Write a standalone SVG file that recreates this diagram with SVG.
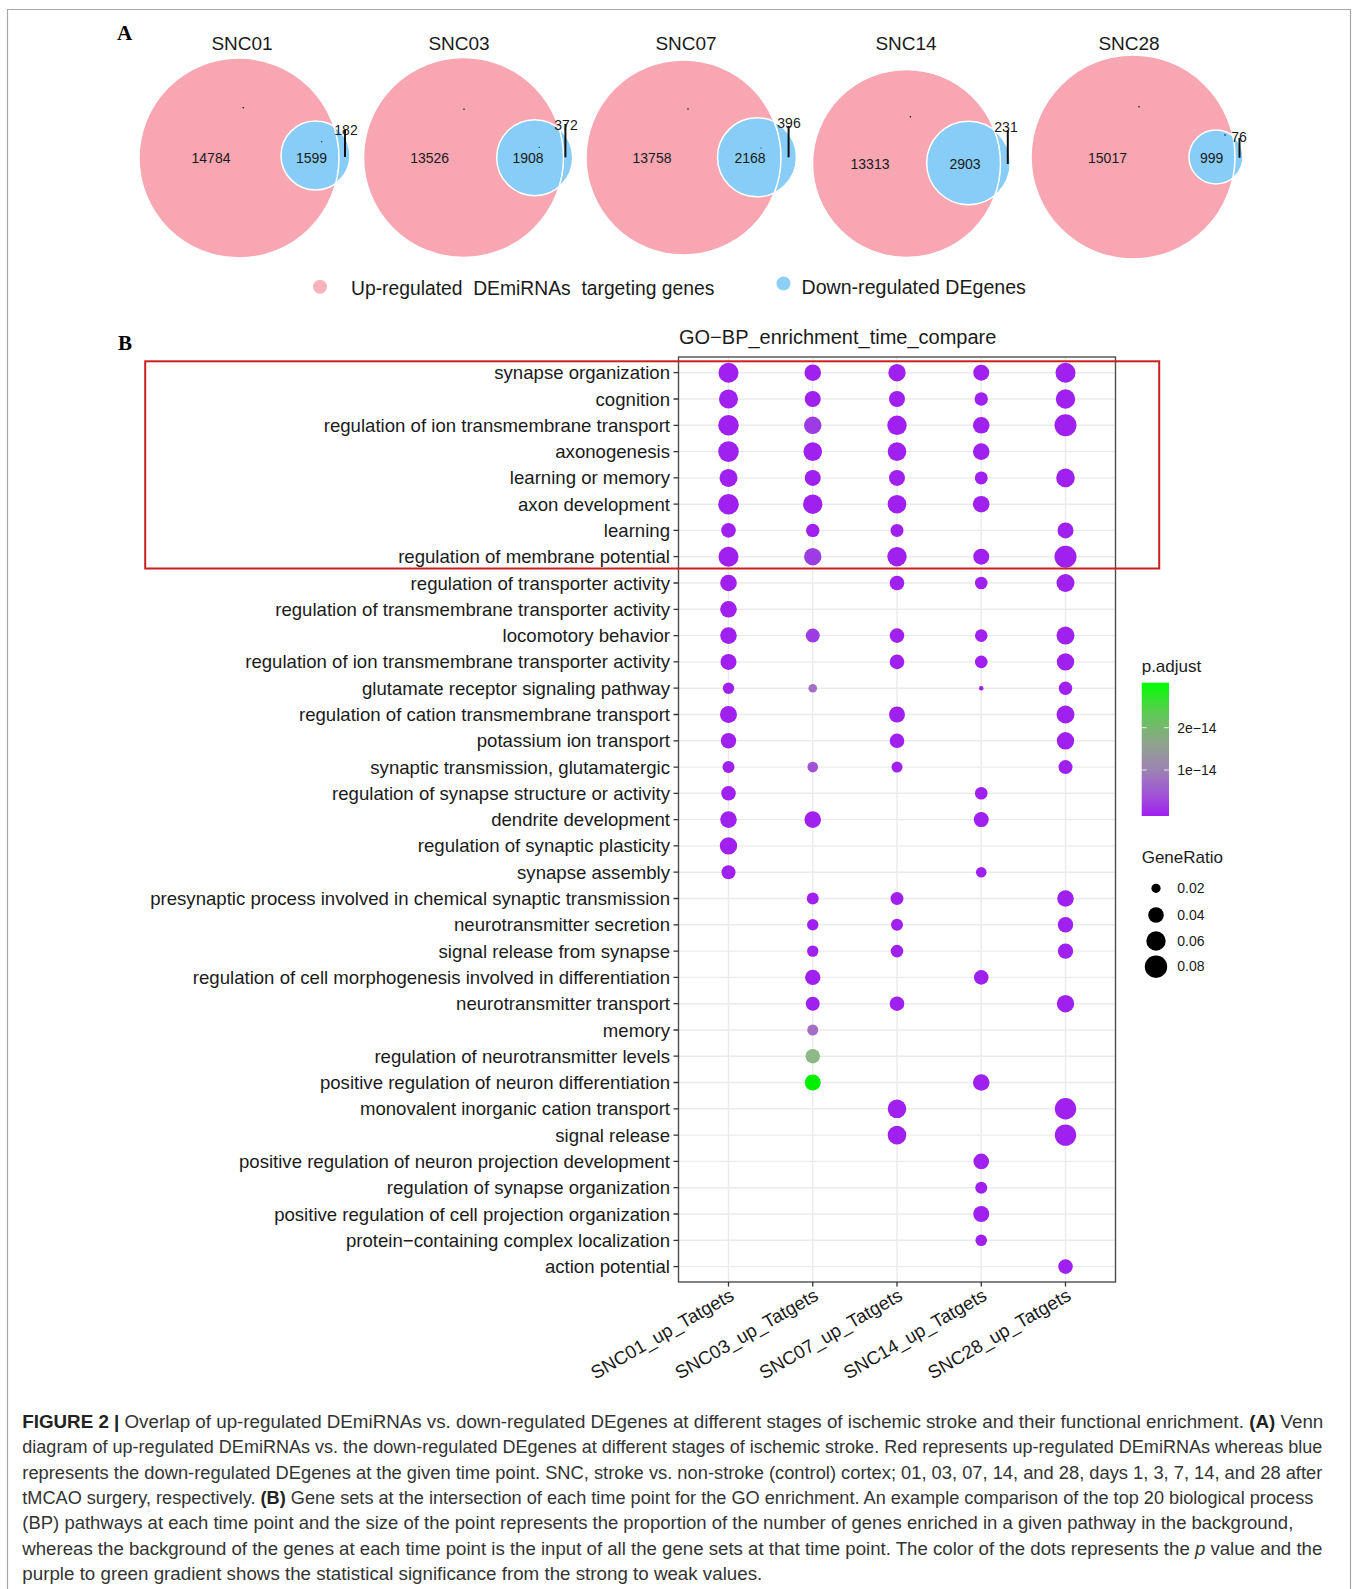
<svg xmlns="http://www.w3.org/2000/svg" width="1356" height="1589" viewBox="0 0 1356 1589">
<defs>
<style>
.t{font-family:"Liberation Sans",Arial,sans-serif;fill:#1a1a1a}
.ttl{font-size:19px;text-anchor:middle}
.num{font-size:14px;text-anchor:middle}
.lab{font-size:18.6px;text-anchor:end}
.xl{font-size:18.6px;text-anchor:end}
.leg{font-size:17px}
.legs{font-size:14px}
.pl{font-family:"Liberation Serif","Times New Roman",serif;font-weight:bold;font-size:21px;fill:#000}
.pink{fill:#F8A6B2}
.blue{fill:#87CDF8;stroke:#fff;stroke-width:1.5}
.edge{fill:none;stroke:#fff;stroke-width:1.5}
.lead{stroke:#111;stroke-width:2}
.dot{fill:#111}
.grid{stroke:#EBEBEB;stroke-width:1.4;fill:none}
.p{fill:#A020F0}
.l1{fill:#9C3CE2}
.l2{fill:#A052D6}
.g1{fill:#A36EC6}
.g2{fill:#8DB986}
.gr{fill:#00F000}
.cap{font-family:"Liberation Sans",Arial,sans-serif;font-size:17.5px;fill:#333}
.b{font-weight:bold;fill:#222}
</style>
<linearGradient id="cbar" x1="0" y1="0" x2="0" y2="1">
<stop offset="0" stop-color="#00FF00"/>
<stop offset="0.22" stop-color="#5CCB52"/>
<stop offset="0.45" stop-color="#8FA48B"/>
<stop offset="0.65" stop-color="#9C84B2"/>
<stop offset="0.85" stop-color="#A052D8"/>
<stop offset="1" stop-color="#A020F0"/>
</linearGradient>
</defs>
<rect width="1356" height="1589" fill="#fff"/>
<path d="M7.5,1589V9.5H1350.5V1589" fill="none" stroke="#A8A8A8" stroke-width="1.2"/>

<text class="pl" x="117" y="40">A</text>

<g id="venn-snc01">
<text class="t ttl" x="242" y="50">SNC01</text>
<circle class="pink" cx="239" cy="158" r="100"/>
<circle class="blue" cx="315.5" cy="155.5" r="34.5"/>
<circle class="edge" cx="239" cy="158" r="100"/>
<text class="t num" x="211" y="162.5">14784</text>
<text class="t num" x="311.5" y="162.5">1599</text>
<text class="t num" x="346" y="135">182</text>
<circle class="dot" cx="243.3" cy="107.7" r="0.8"/>
<circle class="dot" cx="321.7" cy="141.7" r="0.6"/>
</g>

<g id="venn-snc03">
<text class="t ttl" x="459" y="50">SNC03</text>
<circle class="pink" cx="463.5" cy="157.5" r="100"/>
<circle class="blue" cx="534.7" cy="157.7" r="38"/>
<circle class="edge" cx="463.5" cy="157.5" r="100"/>
<text class="t num" x="429.7" y="162.5">13526</text>
<text class="t num" x="528" y="162.5">1908</text>
<text class="t num" x="566" y="130">372</text>
<circle class="dot" cx="464" cy="109.3" r="0.8"/>
<circle class="dot" cx="539.3" cy="147.3" r="0.6"/>
</g>

<g id="venn-snc07">
<text class="t ttl" x="686" y="50">SNC07</text>
<circle class="pink" cx="683.5" cy="157.5" r="97.5"/>
<circle class="blue" cx="757" cy="157.3" r="39.5"/>
<circle class="edge" cx="683.5" cy="157.5" r="97.5"/>
<text class="t num" x="652" y="163.3">13758</text>
<text class="t num" x="750" y="163.3">2168</text>
<text class="t num" x="789" y="128.3">396</text>
<circle class="dot" cx="688" cy="109" r="0.8"/>
<circle class="dot" cx="761" cy="148" r="0.6"/>
</g>

<g id="venn-snc14">
<text class="t ttl" x="906" y="50">SNC14</text>
<circle class="pink" cx="906.5" cy="163.5" r="94"/>
<circle class="blue" cx="968.5" cy="163" r="41.8"/>
<circle class="edge" cx="906.5" cy="163.5" r="94"/>
<text class="t num" x="870" y="169">13313</text>
<text class="t num" x="965" y="169">2903</text>
<text class="t num" x="1006" y="131.7">231</text>
<circle class="dot" cx="910.4" cy="116.7" r="0.8"/>
</g>

<g id="venn-snc28">
<text class="t ttl" x="1129" y="50">SNC28</text>
<circle class="pink" cx="1133" cy="157" r="102"/>
<circle class="blue" cx="1216" cy="157" r="27"/>
<circle class="edge" cx="1133" cy="157" r="102"/>
<text class="t num" x="1107.5" y="163.3">15017</text>
<text class="t num" x="1211.6" y="163.3">999</text>
<text class="t num" x="1239" y="141.7">76</text>
<circle class="dot" cx="1139" cy="106.7" r="0.8"/>
<circle class="dot" cx="1225" cy="135" r="0.8"/>
</g>

<g id="venn-leaders">
<line class="lead" x1="345" y1="130" x2="345" y2="157"/>
<line class="lead" x1="565.4" y1="124" x2="565.4" y2="157.3"/>
<line class="lead" x1="788.6" y1="126" x2="788.6" y2="157.3"/>
<line class="lead" x1="1007.8" y1="130" x2="1007.8" y2="164"/>
<line class="lead" x1="1239.5" y1="138" x2="1239.5" y2="157.7"/>
</g>

<g id="venn-legend">
<circle cx="320" cy="286.7" r="7" fill="#F9B3BD"/>
<text class="t" x="351" y="295" font-size="19.3" xml:space="preserve" style="white-space:pre">Up-regulated  DEmiRNAs  targeting genes</text>
<circle cx="783.5" cy="283.5" r="7" fill="#8DCFF7"/>
<text class="t" x="801.5" y="294" font-size="19.6">Down-regulated DEgenes</text>
</g>

<text class="pl" x="118" y="349.5">B</text>

<g id="dotplot">
<text class="t" x="679" y="344" font-size="20">GO−BP_enrichment_time_compare</text>
<rect x="678.5" y="357" width="437" height="925" fill="#fff"/>
<path class="grid" d="M678.5,372.7H1115.5M678.5,399H1115.5M678.5,425.3H1115.5M678.5,451.6H1115.5M678.5,477.9H1115.5M678.5,504.2H1115.5M678.5,530.4H1115.5M678.5,556.7H1115.5M678.5,583H1115.5M678.5,609.3H1115.5M678.5,635.6H1115.5M678.5,661.9H1115.5M678.5,688.2H1115.5M678.5,714.5H1115.5M678.5,740.8H1115.5M678.5,767.1H1115.5M678.5,793.3H1115.5M678.5,819.6H1115.5M678.5,845.9H1115.5M678.5,872.2H1115.5M678.5,898.5H1115.5M678.5,924.8H1115.5M678.5,951.1H1115.5M678.5,977.4H1115.5M678.5,1003.7H1115.5M678.5,1030H1115.5M678.5,1056.2H1115.5M678.5,1082.5H1115.5M678.5,1108.8H1115.5M678.5,1135.1H1115.5M678.5,1161.4H1115.5M678.5,1187.7H1115.5M678.5,1214H1115.5M678.5,1240.3H1115.5M678.5,1266.6H1115.5M728.5,357V1282M812.75,357V1282M897,357V1282M981.25,357V1282M1065.5,357V1282"/>

<g id="dots">
<circle class="p" cx="728.5" cy="372.7" r="10"/><circle class="p" cx="812.75" cy="372.7" r="8.3"/><circle class="p" cx="897" cy="372.7" r="8.7"/><circle class="p" cx="981.25" cy="372.7" r="8"/><circle class="p" cx="1065.5" cy="372.7" r="10"/>
<circle class="p" cx="728.5" cy="399" r="9.5"/><circle class="p" cx="812.75" cy="399" r="8"/><circle class="p" cx="897" cy="399" r="8"/><circle class="p" cx="981.25" cy="399" r="6.7"/><circle class="p" cx="1065.5" cy="399" r="9.7"/>
<circle class="p" cx="728.5" cy="425.3" r="10.3"/><circle class="l1" cx="812.75" cy="425.3" r="8.7"/><circle class="p" cx="897" cy="425.3" r="9.7"/><circle class="p" cx="981.25" cy="425.3" r="8.3"/><circle class="p" cx="1065.5" cy="425.3" r="11"/>
<circle class="p" cx="728.5" cy="451.6" r="10.3"/><circle class="p" cx="812.75" cy="451.6" r="9.3"/><circle class="p" cx="897" cy="451.6" r="9.3"/><circle class="p" cx="981.25" cy="451.6" r="8.3"/>
<circle class="p" cx="728.5" cy="477.9" r="9"/><circle class="p" cx="812.75" cy="477.9" r="8"/><circle class="p" cx="897" cy="477.9" r="8"/><circle class="p" cx="981.25" cy="477.9" r="6.5"/><circle class="p" cx="1065.5" cy="477.9" r="9.3"/>
<circle class="p" cx="728.5" cy="504.2" r="10.3"/><circle class="p" cx="812.75" cy="504.2" r="9.7"/><circle class="p" cx="897" cy="504.2" r="9.3"/><circle class="p" cx="981.25" cy="504.2" r="8.3"/>
<circle class="p" cx="728.5" cy="530.4" r="7.3"/><circle class="p" cx="812.75" cy="530.4" r="6.7"/><circle class="p" cx="897" cy="530.4" r="6.5"/><circle class="p" cx="1065.5" cy="530.4" r="8"/>
<circle class="p" cx="728.5" cy="556.7" r="10"/><circle class="l1" cx="812.75" cy="556.7" r="8.7"/><circle class="p" cx="897" cy="556.7" r="9.7"/><circle class="p" cx="981.25" cy="556.7" r="8"/><circle class="p" cx="1065.5" cy="556.7" r="11"/>
<circle class="p" cx="728.5" cy="583" r="8.3"/><circle class="p" cx="897" cy="583" r="7.3"/><circle class="p" cx="981.25" cy="583" r="6.3"/><circle class="p" cx="1065.5" cy="583" r="9"/>
<circle class="p" cx="728.5" cy="609.3" r="8.3"/>
<circle class="p" cx="728.5" cy="635.6" r="8.3"/><circle class="l1" cx="812.75" cy="635.6" r="7"/><circle class="p" cx="897" cy="635.6" r="7.3"/><circle class="p" cx="981.25" cy="635.6" r="6.3"/><circle class="p" cx="1065.5" cy="635.6" r="9"/>
<circle class="p" cx="728.5" cy="661.9" r="8"/><circle class="p" cx="897" cy="661.9" r="7.3"/><circle class="p" cx="981.25" cy="661.9" r="6.3"/><circle class="p" cx="1065.5" cy="661.9" r="8.7"/>
<circle class="p" cx="728.5" cy="688.2" r="5.7"/><circle class="g1" cx="812.75" cy="688.2" r="4.3"/><circle class="p" cx="981.25" cy="688.2" r="2.3"/><circle class="p" cx="1065.5" cy="688.2" r="6.7"/>
<circle class="p" cx="728.5" cy="714.5" r="8.5"/><circle class="p" cx="897" cy="714.5" r="8"/><circle class="p" cx="1065.5" cy="714.5" r="9"/>
<circle class="p" cx="728.5" cy="740.8" r="7.7"/><circle class="p" cx="897" cy="740.8" r="7.3"/><circle class="p" cx="1065.5" cy="740.8" r="8.7"/>
<circle class="p" cx="728.5" cy="767.1" r="6"/><circle class="l2" cx="812.75" cy="767.1" r="5.3"/><circle class="p" cx="897" cy="767.1" r="5.5"/><circle class="p" cx="1065.5" cy="767.1" r="7"/>
<circle class="p" cx="728.5" cy="793.3" r="7.3"/><circle class="p" cx="981.25" cy="793.3" r="6.3"/>
<circle class="p" cx="728.5" cy="819.6" r="8.3"/><circle class="p" cx="812.75" cy="819.6" r="8.3"/><circle class="p" cx="981.25" cy="819.6" r="7.5"/>
<circle class="p" cx="728.5" cy="845.9" r="8.7"/>
<circle class="p" cx="728.5" cy="872.2" r="7"/><circle class="p" cx="981.25" cy="872.2" r="5.3"/>
<circle class="p" cx="812.75" cy="898.5" r="6"/><circle class="p" cx="897" cy="898.5" r="6.5"/><circle class="p" cx="1065.5" cy="898.5" r="8.3"/>
<circle class="p" cx="812.75" cy="924.8" r="5.7"/><circle class="p" cx="897" cy="924.8" r="6"/><circle class="p" cx="1065.5" cy="924.8" r="7.7"/>
<circle class="p" cx="812.75" cy="951.1" r="5.7"/><circle class="p" cx="897" cy="951.1" r="6.3"/><circle class="p" cx="1065.5" cy="951.1" r="7.7"/>
<circle class="p" cx="812.75" cy="977.4" r="7.7"/><circle class="p" cx="981.25" cy="977.4" r="7.3"/>
<circle class="p" cx="812.75" cy="1003.7" r="7"/><circle class="p" cx="897" cy="1003.7" r="7.3"/><circle class="p" cx="1065.5" cy="1003.7" r="8.7"/>
<circle class="g1" cx="812.75" cy="1030" r="5.5"/>
<circle class="g2" cx="812.75" cy="1056.2" r="7.3"/>
<circle class="gr" cx="812.75" cy="1082.5" r="8"/><circle class="p" cx="981.25" cy="1082.5" r="8.3"/>
<circle class="p" cx="897" cy="1108.8" r="9.3"/><circle class="p" cx="1065.5" cy="1108.8" r="10.7"/>
<circle class="p" cx="897" cy="1135.1" r="9.3"/><circle class="p" cx="1065.5" cy="1135.1" r="10.7"/>
<circle class="p" cx="981.25" cy="1161.4" r="7.8"/>
<circle class="p" cx="981.25" cy="1187.7" r="6"/>
<circle class="p" cx="981.25" cy="1214" r="8"/>
<circle class="p" cx="981.25" cy="1240.3" r="5.8"/>
<circle class="p" cx="1065.5" cy="1266.6" r="7.3"/>
</g>

<rect x="678.5" y="357" width="437" height="925" fill="none" stroke="#4d4d4d" stroke-width="1.4"/>
<path d="M673.5,372.7h5M673.5,399h5M673.5,425.3h5M673.5,451.6h5M673.5,477.9h5M673.5,504.2h5M673.5,530.4h5M673.5,556.7h5M673.5,583h5M673.5,609.3h5M673.5,635.6h5M673.5,661.9h5M673.5,688.2h5M673.5,714.5h5M673.5,740.8h5M673.5,767.1h5M673.5,793.3h5M673.5,819.6h5M673.5,845.9h5M673.5,872.2h5M673.5,898.5h5M673.5,924.8h5M673.5,951.1h5M673.5,977.4h5M673.5,1003.7h5M673.5,1030h5M673.5,1056.2h5M673.5,1082.5h5M673.5,1108.8h5M673.5,1135.1h5M673.5,1161.4h5M673.5,1187.7h5M673.5,1214h5M673.5,1240.3h5M673.5,1266.6h5M728.5,1282v4.5M812.75,1282v4.5M897,1282v4.5M981.25,1282v4.5M1065.5,1282v4.5" stroke="#333" stroke-width="1.3" fill="none"/>

<g id="ylabels" class="t lab">
<text x="670" y="379.2">synapse organization</text>
<text x="670" y="405.5">cognition</text>
<text x="670" y="431.8">regulation of ion transmembrane transport</text>
<text x="670" y="458.1">axonogenesis</text>
<text x="670" y="484.4">learning or memory</text>
<text x="670" y="510.7">axon development</text>
<text x="670" y="536.9">learning</text>
<text x="670" y="563.2">regulation of membrane potential</text>
<text x="670" y="589.5">regulation of transporter activity</text>
<text x="670" y="615.8">regulation of transmembrane transporter activity</text>
<text x="670" y="642.1">locomotory behavior</text>
<text x="670" y="668.4">regulation of ion transmembrane transporter activity</text>
<text x="670" y="694.7">glutamate receptor signaling pathway</text>
<text x="670" y="721">regulation of cation transmembrane transport</text>
<text x="670" y="747.3">potassium ion transport</text>
<text x="670" y="773.6">synaptic transmission, glutamatergic</text>
<text x="670" y="799.8">regulation of synapse structure or activity</text>
<text x="670" y="826.1">dendrite development</text>
<text x="670" y="852.4">regulation of synaptic plasticity</text>
<text x="670" y="878.7">synapse assembly</text>
<text x="670" y="905">presynaptic process involved in chemical synaptic transmission</text>
<text x="670" y="931.3">neurotransmitter secretion</text>
<text x="670" y="957.6">signal release from synapse</text>
<text x="670" y="983.9">regulation of cell morphogenesis involved in differentiation</text>
<text x="670" y="1010.2">neurotransmitter transport</text>
<text x="670" y="1036.5">memory</text>
<text x="670" y="1062.7">regulation of neurotransmitter levels</text>
<text x="670" y="1089">positive regulation of neuron differentiation</text>
<text x="670" y="1115.3">monovalent inorganic cation transport</text>
<text x="670" y="1141.6">signal release</text>
<text x="670" y="1167.9">positive regulation of neuron projection development</text>
<text x="670" y="1194.2">regulation of synapse organization</text>
<text x="670" y="1220.5">positive regulation of cell projection organization</text>
<text x="670" y="1246.8">protein−containing complex localization</text>
<text x="670" y="1273.1">action potential</text>
</g>

<g id="xlabels" class="t xl">
<text transform="translate(735.2,1299) rotate(-30)">SNC01_up_Tatgets</text>
<text transform="translate(819.45,1299) rotate(-30)">SNC03_up_Tatgets</text>
<text transform="translate(903.7,1299) rotate(-30)">SNC07_up_Tatgets</text>
<text transform="translate(987.95,1299) rotate(-30)">SNC14_up_Tatgets</text>
<text transform="translate(1072.2,1299) rotate(-30)">SNC28_up_Tatgets</text>
</g>
</g>

<g id="legend-padjust">
<text class="t leg" x="1141.7" y="671.7">p.adjust</text>
<rect x="1141.7" y="682.7" width="27.3" height="133.3" fill="url(#cbar)"/>
<path d="M1141.7,727.7h5M1164,727.7h5M1141.7,770h5M1164,770h5" stroke="#fff" stroke-width="1" opacity="0.8"/>
<text class="t legs" x="1177.3" y="732.5">2e−14</text>
<text class="t legs" x="1177.3" y="774.8">1e−14</text>
</g>

<g id="legend-generatio">
<text class="t leg" x="1141.7" y="863.3">GeneRatio</text>
<circle cx="1156" cy="888.3" r="4.6" fill="#000"/>
<circle cx="1156" cy="915" r="7.8" fill="#000"/>
<circle cx="1156" cy="941" r="9.7" fill="#000"/>
<circle cx="1156" cy="966.7" r="11.2" fill="#000"/>
<text class="t legs" x="1177.3" y="893">0.02</text>
<text class="t legs" x="1177.3" y="919.7">0.04</text>
<text class="t legs" x="1177.3" y="945.7">0.06</text>
<text class="t legs" x="1177.3" y="971.4">0.08</text>
</g>

<g id="highlight-box">
<rect x="145.2" y="361.3" width="1014" height="207.2" fill="none" stroke="#CC2020" stroke-width="2"/>
</g>

<g id="caption" class="cap">
<text x="22.3" y="1428" textLength="1301" lengthAdjust="spacingAndGlyphs"><tspan class="b">FIGURE 2 |</tspan> Overlap of up-regulated DEmiRNAs vs. down-regulated DEgenes at different stages of ischemic stroke and their functional enrichment. <tspan class="b">(A)</tspan> Venn</text>
<text x="22.3" y="1453.3" textLength="1300" lengthAdjust="spacingAndGlyphs">diagram of up-regulated DEmiRNAs vs. the down-regulated DEgenes at different stages of ischemic stroke. Red represents up-regulated DEmiRNAs whereas blue</text>
<text x="22.3" y="1478.6" textLength="1300" lengthAdjust="spacingAndGlyphs">represents the down-regulated DEgenes at the given time point. SNC, stroke vs. non-stroke (control) cortex; 01, 03, 07, 14, and 28, days 1, 3, 7, 14, and 28 after</text>
<text x="22.3" y="1503.9" textLength="1291" lengthAdjust="spacingAndGlyphs">tMCAO surgery, respectively. <tspan class="b">(B)</tspan> Gene sets at the intersection of each time point for the GO enrichment. An example comparison of the top 20 biological process</text>
<text x="22.3" y="1529.2" textLength="1271" lengthAdjust="spacingAndGlyphs">(BP) pathways at each time point and the size of the point represents the proportion of the number of genes enriched in a given pathway in the background,</text>
<text x="22.3" y="1554.5" textLength="1300" lengthAdjust="spacingAndGlyphs">whereas the background of the genes at each time point is the input of all the gene sets at that time point. The color of the dots represents the <tspan font-style="italic">p</tspan> value and the</text>
<text x="22.3" y="1579.8" textLength="740" lengthAdjust="spacingAndGlyphs">purple to green gradient shows the statistical significance from the strong to weak values.</text>
</g>
</svg>
